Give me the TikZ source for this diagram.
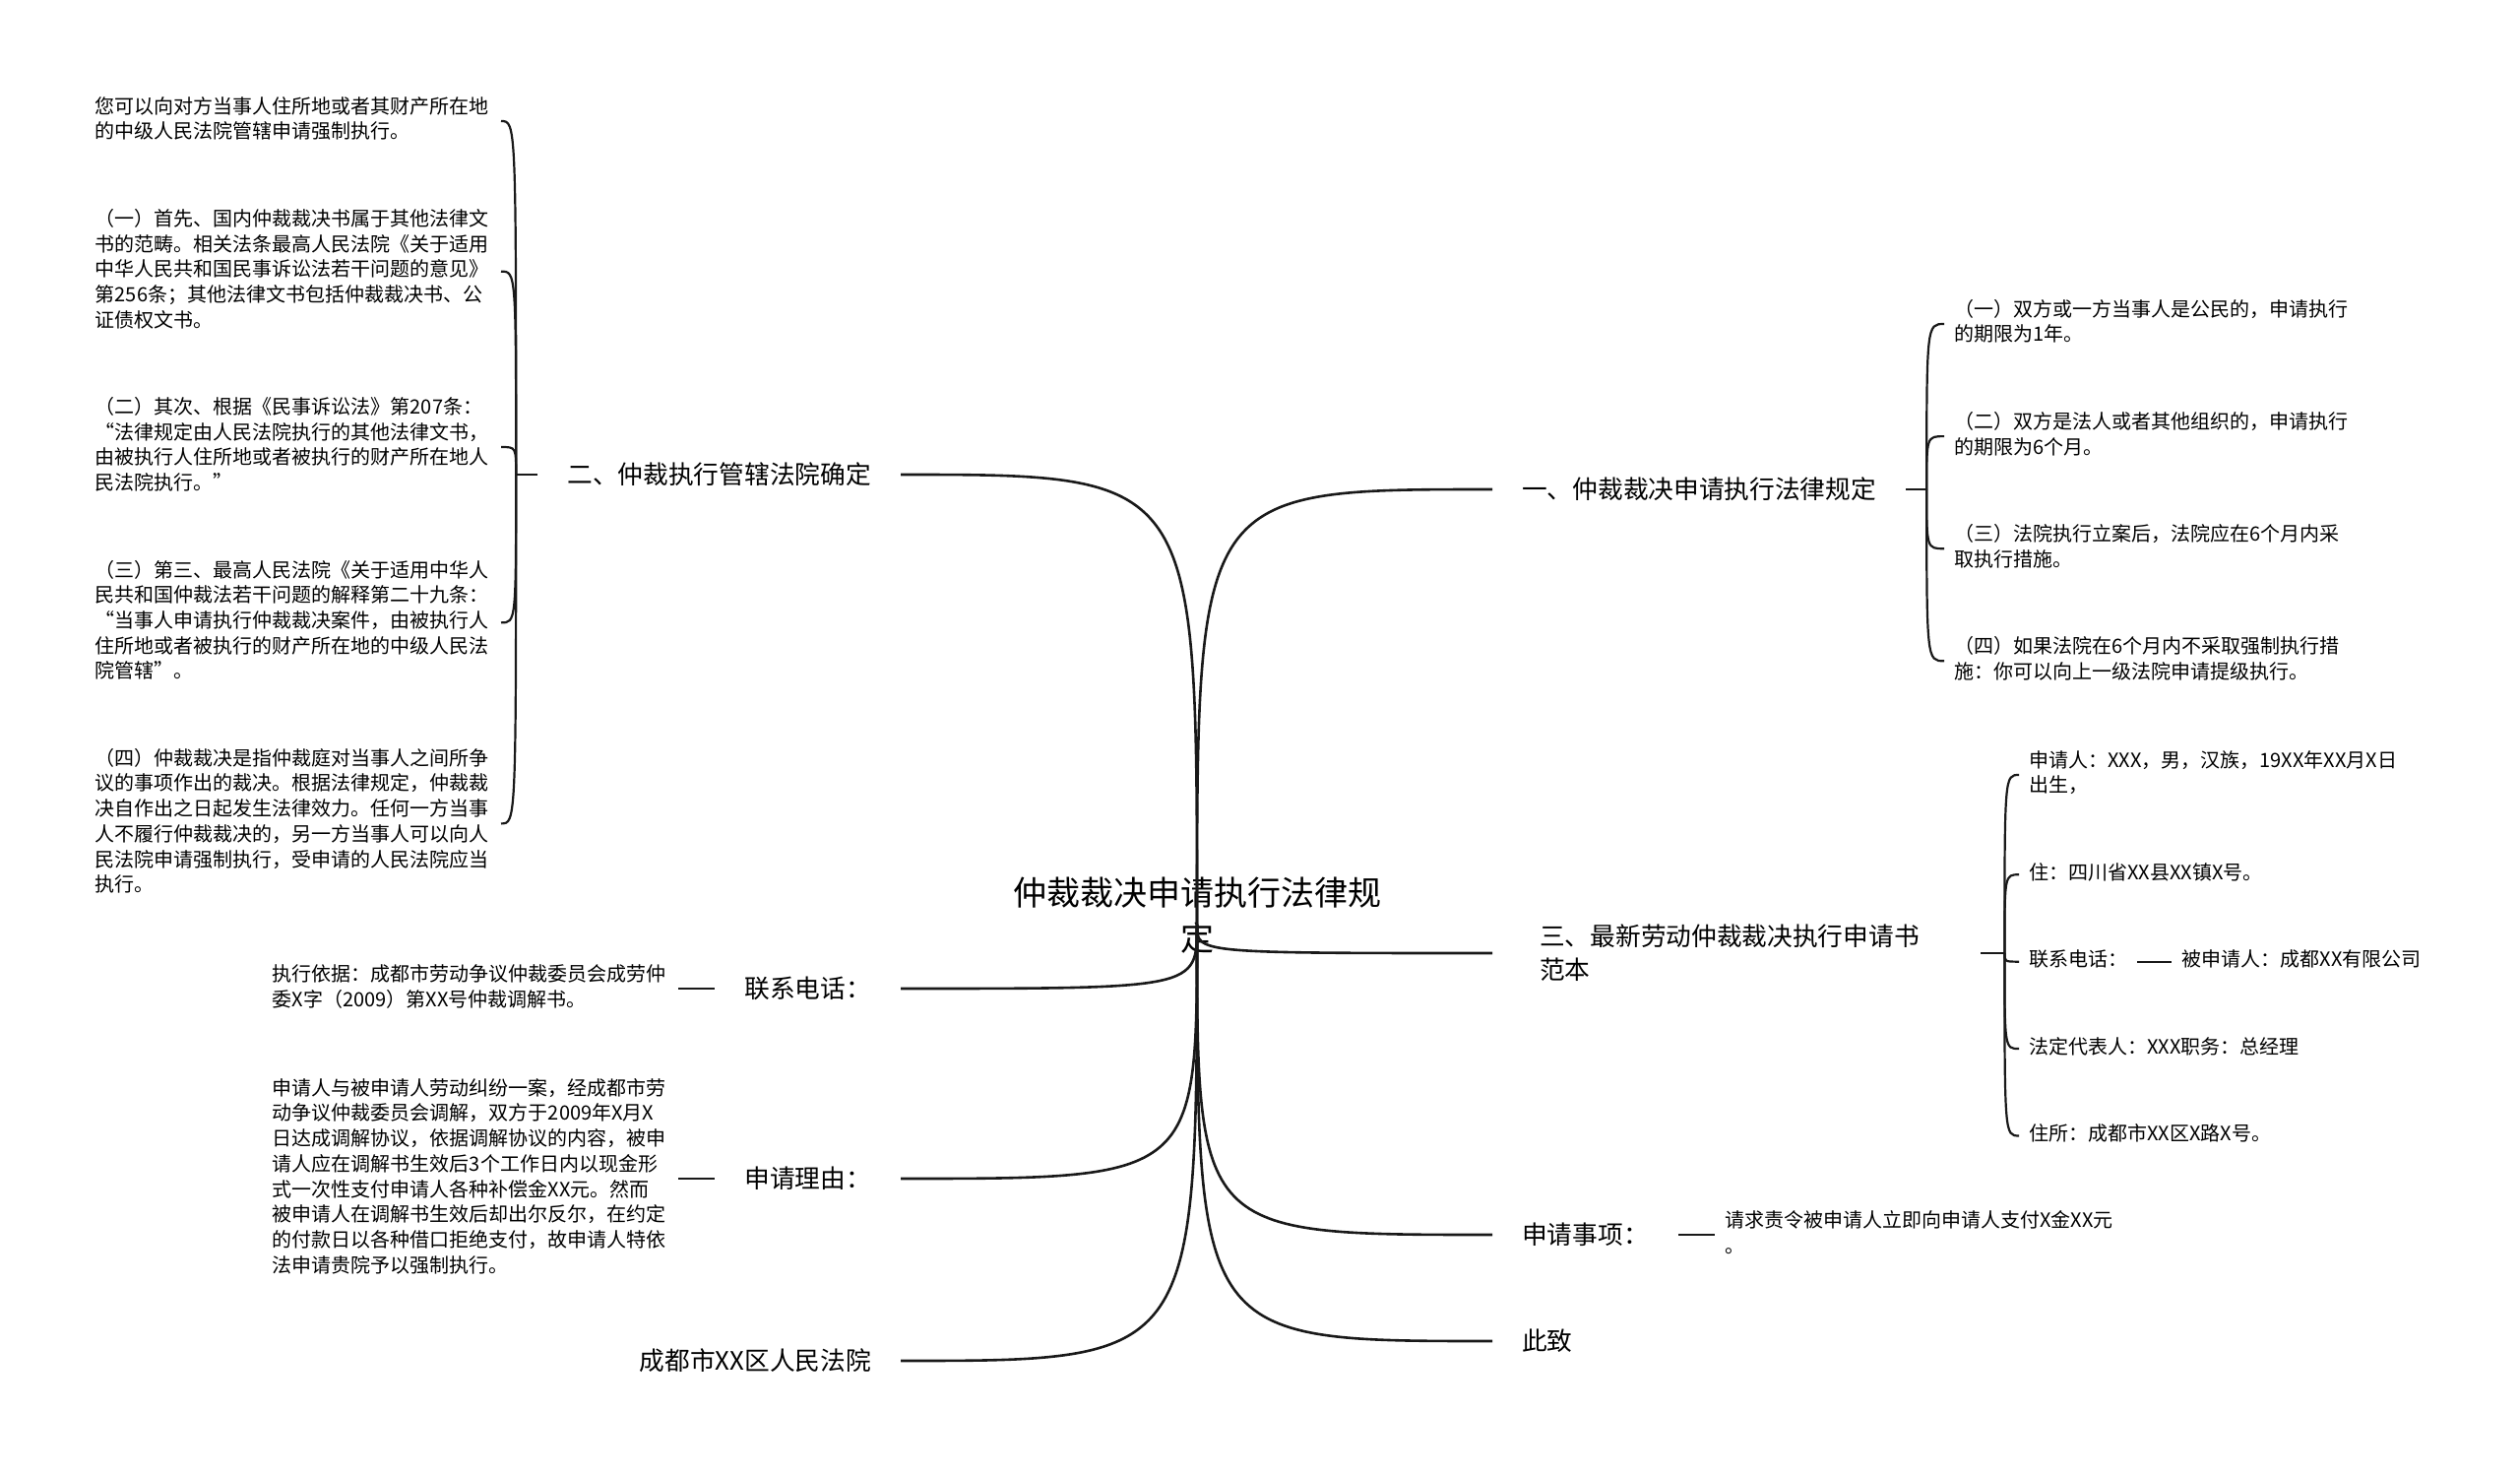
\documentclass[tikz,border=0pt]{standalone}
\usepackage{fontspec}
\setmainfont{Noto Sans CJK SC}
\usetikzlibrary{positioning}
\newcommand{\quoL}{{\addfontfeatures{CharacterWidth=Full}“}}
\newcommand{\quoR}{{\addfontfeatures{CharacterWidth=Full}”}}

\begin{document}
\begin{tikzpicture}[x=1pt, y=-1pt, node distance=62.3pt,
    mainnode/.style={align=center, text=black, font=\fontsize{34}{46}\selectfont},
    topicnode/.style={align=left, inner xsep=30pt, text=black, font=\fontsize{25.7}{34}\selectfont},
    leafnode/.style={align=left, text width=402pt, inner xsep=10pt, inner ysep=0pt, text=black, font=\fontsize{20}{25.7}\selectfont, execute at begin node=\strut, execute at end node=\strut},
    shortleaf/.style={align=left, inner xsep=10pt, inner ysep=0pt, text=black, font=\fontsize{20}{25.7}\selectfont, execute at begin node=\strut, execute at end node=\strut},
    mainline/.style={line width=2.6pt, black!90},
    leafline/.style={line width=2.2pt, black!90}]
    \useasboundingbox (0,0) rectangle (2560,1499);

    \node (root) [mainnode] at (1216,930) {仲裁裁决申请执行法律规\\定};
    \coordinate (hub) at ([yshift=-10pt]root.center);

    \node (court) [topicnode, anchor=east] at (915,482) {二、仲裁执行管辖法院确定};
    \node (phone) [topicnode, anchor=east] at (915,1004) {联系电话：};
    \node (reason) [topicnode, anchor=east] at (915,1197) {申请理由：};
    \node (district) [topicnode, anchor=east] at (915,1382) {成都市XX区人民法院};

    \node (rules) [topicnode, anchor=west] at (1516,497) {一、仲裁裁决申请执行法律规定};
    \node (sample) [topicnode, anchor=west, text width=400pt, inner xsep=48pt] at (1516,968) {三、最新劳动仲裁裁决执行申请书\\范本};
    \node (items) [topicnode, anchor=west] at (1516,1254) {申请事项：};
    \node (closing) [topicnode, anchor=west] at (1516,1362) {此致};

    \node (court1) [leafnode, anchor=east] at (509,123) {您可以向对方当事人住所地或者其财产所在地\\的中级人民法院管辖申请强制执行。};
    \node (court2) [leafnode, below=of court1] {（一）首先、国内仲裁裁决书属于其他法律文\\书的范畴。相关法条最高人民法院《关于适用\\中华人民共和国民事诉讼法若干问题的意见》\\第256条；其他法律文书包括仲裁裁决书、公\\证债权文书。};
    \node (court3) [leafnode, below=of court2] {（二）其次、根据《民事诉讼法》第207条：\\\quoL 法律规定由人民法院执行的其他法律文书，\\由被执行人住所地或者被执行的财产所在地人\\民法院执行。\quoR};
    \node (court4) [leafnode, below=of court3] {（三）第三、最高人民法院《关于适用中华人\\民共和国仲裁法若干问题的解释第二十九条：\\\quoL 当事人申请执行仲裁裁决案件，由被执行人\\住所地或者被执行的财产所在地的中级人民法\\院管辖\quoR 。};
    \node (court5) [leafnode, below=of court4] {（四）仲裁裁决是指仲裁庭对当事人之间所争\\议的事项作出的裁决。根据法律规定，仲裁裁\\决自作出之日起发生法律效力。任何一方当事\\人不履行仲裁裁决的，另一方当事人可以向人\\民法院申请强制执行，受申请的人民法院应当\\执行。};

    \node (basis) [leafnode, left=37pt of phone] {执行依据：成都市劳动争议仲裁委员会成劳仲\\委X字（2009）第XX号仲裁调解书。};
    \node (story) [leafnode, left=37pt of reason] {申请人与被申请人劳动纠纷一案，经成都市劳\\动争议仲裁委员会调解，双方于2009年X月X\\日达成调解协议，依据调解协议的内容，被申\\请人应在调解书生效后3个工作日内以现金形\\式一次性支付申请人各种补偿金XX元。然而\\被申请人在调解书生效后却出尔反尔，在约定\\的付款日以各种借口拒绝支付，故申请人特依\\法申请贵院予以强制执行。};

    \node (rules1) [leafnode, anchor=west] at (1975,329) {（一）双方或一方当事人是公民的，申请执行\\的期限为1年。};
    \node (rules2) [leafnode, below=of rules1] {（二）双方是法人或者其他组织的，申请执行\\的期限为6个月。};
    \node (rules3) [leafnode, below=of rules2] {（三）法院执行立案后，法院应在6个月内采\\取执行措施。};
    \node (rules4) [leafnode, below=of rules3] {（四）如果法院在6个月内不采取强制执行措\\施：你可以向上一级法院申请提级执行。};

    \node (sample1) [leafnode, anchor=west] at (2051,787) {申请人：XXX，男，汉族，19XX年XX月X日\\出生，};
    \node (sample2) [leafnode, below=of sample1] {住：四川省XX县XX镇X号。};
    \node (sample3) [shortleaf, below=of sample2.south west, anchor=north west] {联系电话：};
    \node (sample4) [leafnode, below=of sample3.south west, anchor=north west] {法定代表人：XXX职务：总经理};
    \node (sample5) [leafnode, below=of sample4] {住所：成都市XX区X路X号。};
    \node (defendant) [shortleaf, right=35pt of sample3] {被申请人：成都XX有限公司};

    \node (demand) [leafnode, right=37pt of items] {请求责令被申请人立即向申请人支付X金XX元\\。};

    \draw[mainline] (hub) .. controls (hub |- court.east) .. (court.east);
    \draw[mainline] (hub) .. controls (hub |- phone.east) .. (phone.east);
    \draw[mainline] (hub) .. controls (hub |- reason.east) .. (reason.east);
    \draw[mainline] (hub) .. controls (hub |- district.east) .. (district.east);
    \draw[mainline] (hub) .. controls (hub |- rules.west) .. (rules.west);
    \draw[mainline] (hub) .. controls (hub |- sample.west) .. (sample.west);
    \draw[mainline] (hub) .. controls (hub |- items.west) .. (items.west);
    \draw[mainline] (hub) .. controls (hub |- closing.west) .. (closing.west);

    \coordinate (court-k) at ([xshift=-22pt]court.west);
    \draw[leafline] (court.west) -- (court-k);
    \draw[leafline] (court-k) .. controls (court-k |- court1.east) .. (court1.east);
    \draw[leafline] (court-k) .. controls (court-k |- court2.east) .. (court2.east);
    \draw[leafline] (court-k) .. controls (court-k |- court3.east) .. (court3.east);
    \draw[leafline] (court-k) .. controls (court-k |- court4.east) .. (court4.east);
    \draw[leafline] (court-k) .. controls (court-k |- court5.east) .. (court5.east);

    \coordinate (rules-k) at ([xshift=21pt]rules.east);
    \draw[leafline] (rules.east) -- (rules-k);
    \draw[leafline] (rules-k) .. controls (rules-k |- rules1.west) .. (rules1.west);
    \draw[leafline] (rules-k) .. controls (rules-k |- rules2.west) .. (rules2.west);
    \draw[leafline] (rules-k) .. controls (rules-k |- rules3.west) .. (rules3.west);
    \draw[leafline] (rules-k) .. controls (rules-k |- rules4.west) .. (rules4.west);

    \coordinate (sample-k) at ([xshift=24pt]sample.east);
    \draw[leafline] (sample.east) -- (sample-k);
    \draw[leafline] (sample-k) .. controls (sample-k |- sample1.west) .. (sample1.west);
    \draw[leafline] (sample-k) .. controls (sample-k |- sample2.west) .. (sample2.west);
    \draw[leafline] (sample-k) .. controls (sample-k |- sample3.west) .. (sample3.west);
    \draw[leafline] (sample-k) .. controls (sample-k |- sample4.west) .. (sample4.west);
    \draw[leafline] (sample-k) .. controls (sample-k |- sample5.west) .. (sample5.west);

    \draw[leafline] (basis) -- (phone);
    \draw[leafline] (story) -- (reason);
    \draw[leafline] (items) -- (demand);
    \draw[leafline] (sample3) -- (defendant);
\end{tikzpicture}
\end{document}
